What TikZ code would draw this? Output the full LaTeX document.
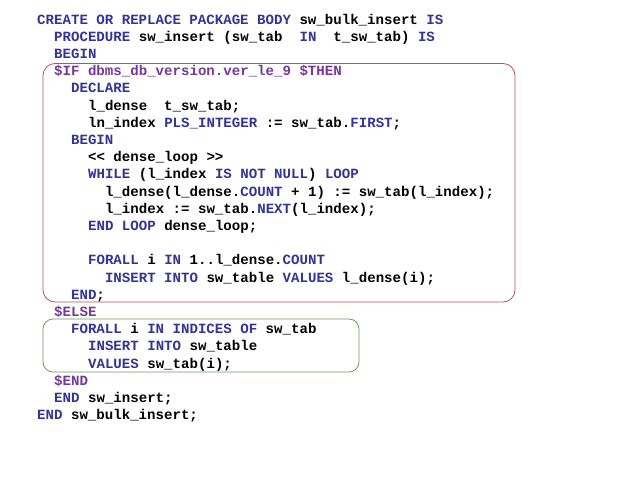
\documentclass[tikz,border=0pt]{standalone}
\usepackage{fontspec}
\setmonofont{Liberation Mono}
\usetikzlibrary{positioning}

\definecolor{kwblue}{RGB}{52,52,150}
\definecolor{ccpurple}{RGB}{118,56,152}
\definecolor{ifred}{RGB}{192,80,77}
\definecolor{elsegreen}{RGB}{106,156,92}

\newcommand{\kw}[1]{\textcolor{kwblue}{#1}}
\newcommand{\cc}[1]{\textcolor{ccpurple}{#1}}

\tikzset{codeline/.style={anchor=base west,inner sep=0pt,text=black,font=\fontsize{14.1}{17.2}\selectfont\ttfamily\bfseries\frenchspacing}}

\begin{document}
\begin{tikzpicture}[x=1pt,y=-1pt]
\fill[white] (0,0) rectangle (638,479);
\useasboundingbox (0,0) rectangle (638,479);

\draw[ifred,line width=0.8pt,rounded corners=12pt] (43,63.5) rectangle (515,302);
\draw[elsegreen,line width=0.8pt,rounded corners=10pt] (43,319) rectangle (359,372);

\node[codeline] (l1) at (37,24.0) {\kw{CREATE OR REPLACE PACKAGE BODY} sw\_bulk\_insert \kw{IS}};
\node[codeline] (l2) at (54,41.2) {\kw{PROCEDURE} sw\_insert (sw\_tab~~\kw{IN}~~t\_sw\_tab) \kw{IS}};
\node[codeline] (l3) at (54,58.4) {\kw{BEGIN}};
\node[codeline] (l4) at (54,75.6) {\cc{\$IF dbms\_db\_version.ver\_le\_9 \$THEN}};
\node[codeline] (l5) at (70.9,92.8) {\kw{DECLARE}};
\node[codeline] (l6) at (87.9,110.0) {l\_dense~~t\_sw\_tab;};
\node[codeline] (l7) at (87.9,127.2) {ln\_index \kw{PLS\_INTEGER} := sw\_tab.\kw{FIRST};};
\node[codeline] (l8) at (70.9,144.4) {\kw{BEGIN}};
\node[codeline] (l9) at (87.9,161.6) {<< dense\_loop >>};
\node[codeline] (l10) at (87.9,178.8) {\kw{WHILE} (l\_index \kw{IS NOT NULL}) \kw{LOOP}};
\node[codeline] (l11) at (104.8,196.0) {l\_dense(l\_dense.\kw{COUNT} + 1) := sw\_tab(l\_index);};
\node[codeline] (l12) at (104.8,213.2) {l\_index := sw\_tab.\kw{NEXT}(l\_index);};
\node[codeline] (l13) at (87.9,230.4) {\kw{END LOOP} dense\_loop;};

\node[codeline] (l15) at (87.9,264.8) {\kw{FORALL} i \kw{IN} 1..l\_dense.\kw{COUNT}};
\node[codeline] (l16) at (104.8,282.0) {\kw{INSERT INTO} sw\_table \kw{VALUES} l\_dense(i);};
\node[codeline] (l17) at (70.9,299.2) {\kw{END};};
\node[codeline] (l18) at (54,316.4) {\cc{\$ELSE}};
\node[codeline] (l19) at (70.9,333.6) {\kw{FORALL} i \kw{IN INDICES OF} sw\_tab};
\node[codeline] (l20) at (87.9,350.8) {\kw{INSERT INTO} sw\_table};
\node[codeline] (l21) at (87.9,368.0) {\kw{VALUES} sw\_tab(i);};
\node[codeline] (l22) at (54,385.2) {\cc{\$END}};
\node[codeline] (l23) at (54,402.4) {\kw{END} sw\_insert;};
\node[codeline] (l24) at (37,419.6) {\kw{END} sw\_bulk\_insert;};

\end{tikzpicture}
\end{document}
